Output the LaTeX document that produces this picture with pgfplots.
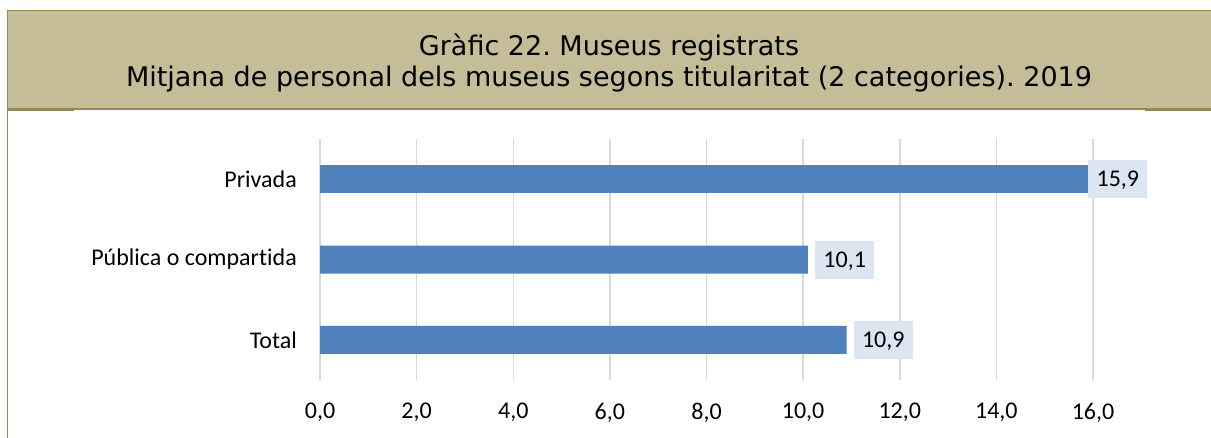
\documentclass[border=0pt]{standalone}
\usepackage{pgfplots}
\pgfplotsset{compat=1.18}
\usepackage{fontspec}
\setmainfont{Carlito}[Ligatures=NoCommon]
\newfontfamily\titlefont{DejaVu Sans}
\frenchspacing
\definecolor{titlefill}{HTML}{C4BD97}
\definecolor{titleline}{HTML}{948A54}
\definecolor{barblue}{HTML}{4F81BD}
\definecolor{labelfill}{HTML}{DCE6F2}
\definecolor{gridgray}{HTML}{D9D9D9}
\begin{document}
\frenchspacing
\begin{tikzpicture}
\fill[white] (0,0) rectangle (1211bp,-438bp);
\fill[titlefill] (7.5bp,-10.5bp) rectangle (1211bp,-109bp);
\draw[titleline, line width=1.5bp] (1211bp,-10.5bp) -- (7.5bp,-10.5bp) -- (7.5bp,-438bp);
\draw[titleline, line width=1.5bp] (7.5bp,-109bp) -- (1211bp,-109bp);
\draw[titleline, line width=1.5bp] (7.5bp,-110bp) -- (74bp,-110bp);
\draw[titleline, line width=1.5bp] (1145bp,-110bp) -- (1211bp,-110bp);
\node[anchor=base, inner sep=0pt, font=\titlefont\fontsize{27bp}{30bp}\selectfont] at (609bp,-55bp) {Gràfic 22. Museus registrats};
\node[anchor=base, inner sep=0pt, font=\titlefont\fontsize{27bp}{30bp}\selectfont] at (609bp,-86bp) {Mitjana de personal dels museus segons titularitat (2 categories). 2019};
\begin{axis}[
  at={(320bp,-380bp)}, anchor=south west,
  scale only axis, width=773bp, height=241bp,
  xbar, bar width=28bp, bar shift=0pt,
  xmin=0, xmax=16, ymin=-0.5, ymax=2.5,
  xtick={0,2,...,16},
  ytick={0,1,2},
  yticklabels={Total, Pública o compartida, Privada},
  axis line style={draw=none},
  major tick length=0pt,
  xmajorgrids, ymajorgrids=false,
  grid style={gridgray, line width=1.5bp},
  /pgf/number format/assume math mode=true,
  /pgf/number format/.cd, fixed, fixed zerofill, precision=1, use comma,
  /pgfplots/.cd,
  tick label style={font=\fontsize{24bp}{28bp}\selectfont},
  xticklabel style={anchor=north, inner sep=0pt, yshift=-23bp},
  yticklabel style={anchor=east, inner sep=0pt, xshift=-23bp},
  nodes near coords,
  nodes near coords align=horizontal,
  every node near coord/.append style={anchor=west, fill=labelfill, inner sep=0pt,
     minimum width=59bp, minimum height=38bp, text depth=0pt, text=black,
     font=\fontsize{24bp}{28bp}\selectfont},
]
\addplot[fill=barblue, draw=none, every node near coord/.append style={xshift=7bp}] coordinates {(10.9,0) (10.1,1)};
\addplot[fill=barblue, draw=none, every node near coord/.append style={xshift=0bp}] coordinates {(15.9,2)};
\end{axis}
\pgfresetboundingbox
\path[use as bounding box] (0,0) rectangle (1211bp,-438bp);
\end{tikzpicture}
\end{document}
